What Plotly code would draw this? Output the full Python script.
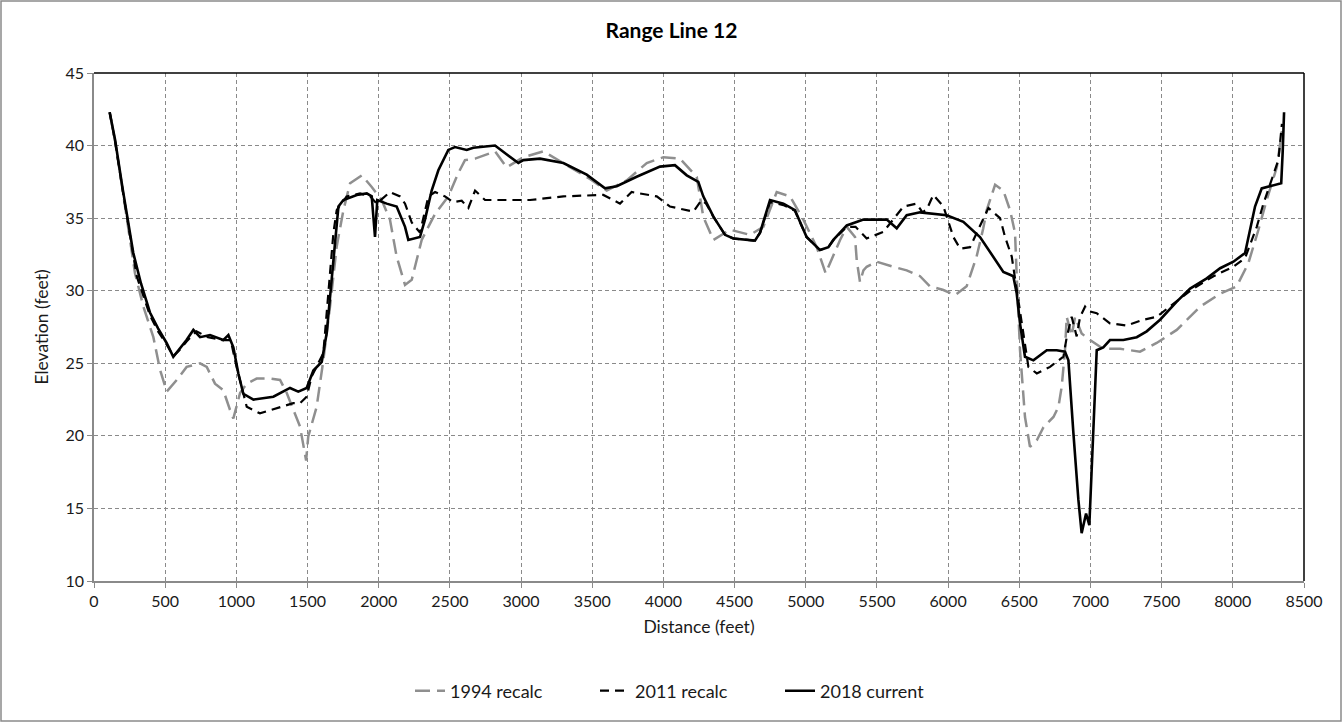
import plotly.graph_objects as go

# ---- data ----
x_2018 = [110, 148, 200, 276, 330, 393, 450, 510, 557, 600, 650, 698, 745, 815, 908, 944, 979, 1014, 1049,
          1120, 1260, 1377, 1435, 1494, 1541, 1600, 1635, 1682, 1717, 1752, 1846, 1916, 1951, 1974, 1990,
          2056, 2126, 2185, 2208, 2290, 2325, 2372, 2419, 2489, 2536, 2618, 2665, 2817, 2900, 2981, 3016,
          3133, 3297, 3461, 3590, 3672, 3812, 3976, 4081, 4164, 4245, 4280, 4351, 4433, 4491, 4643, 4679,
          4749, 4843, 4924, 5006, 5100, 5159, 5194, 5288, 5405, 5569, 5639, 5709, 5803, 5990, 6107, 6224,
          6388, 6435, 6458, 6482, 6505, 6540, 6599, 6693, 6763, 6821, 6845, 6880, 6915, 6938, 6969, 6992,
          7020, 7044, 7090, 7137, 7231, 7325, 7395, 7489, 7606, 7700, 7817, 7911, 8004, 8086, 8121, 8156,
          8203, 8340, 8350, 8360]
y_2018 = [42.3, 40.4, 37.1, 32.6, 30.5, 28.5, 27.4, 26.4, 25.45, 26.0, 26.6, 27.3, 26.8, 26.95, 26.6, 26.95,
          26.1, 24.3, 22.9, 22.5, 22.7, 23.3, 23.05, 23.3, 24.5, 25.1, 27.1, 32.1, 35.8, 36.25, 36.6, 36.7,
          36.5, 33.7, 36.25, 36.0, 35.8, 34.4, 33.5, 33.7, 34.9, 36.9, 38.3, 39.7, 39.9, 39.7, 39.85, 40.0,
          39.4, 38.8, 39.0, 39.1, 38.8, 38.0, 37.05, 37.2, 37.85, 38.55, 38.65, 37.95, 37.5, 36.5, 35.1,
          33.85, 33.6, 33.45, 34.0, 36.25, 36.0, 35.55, 33.7, 32.8, 33.0, 33.5, 34.5, 34.9, 34.9, 34.3,
          35.2, 35.4, 35.2, 34.75, 33.7, 31.3, 31.1, 31.0, 29.8, 27.75, 25.45, 25.2, 25.9, 25.9, 25.8, 25.2,
          20.2, 15.6, 13.3, 14.65, 13.85, 20.2, 25.9, 26.1, 26.6, 26.6, 26.8, 27.2, 28.0, 29.25, 30.15,
          30.85, 31.55, 32.0, 32.6, 34.2, 35.8, 37.05, 37.4, 39.5, 42.3]

x_2011 = [110, 148, 200, 260, 300, 393, 450, 510, 557, 600, 650, 720, 800, 900, 960, 1003, 1073, 1166, 1283,
          1400, 1447, 1494, 1529, 1611, 1646, 1682, 1705, 1775, 1869, 1940, 1986, 2079, 2150, 2185, 2232,
          2290, 2349, 2396, 2466, 2524, 2583, 2630, 2677, 2747, 3063, 3297, 3578, 3695, 3777, 3953, 4046,
          4210, 4269, 4300, 4351, 4433, 4491, 4643, 4679, 4749, 4843, 4924, 5006, 5100, 5159, 5194, 5288,
          5350, 5428, 5545, 5686, 5779, 5820, 5850, 5896, 5967, 6037, 6084, 6154, 6200, 6283, 6365, 6400,
          6447, 6482, 6529, 6564, 6623, 6716, 6810, 6834, 6868, 6903, 6927, 6962, 6985, 7044, 7137, 7254,
          7371, 7465, 7582, 7723, 7864, 8004, 8086, 8168, 8215, 8273, 8320, 8345]
y_2011 = [42.3, 40.3, 37.0, 33.5, 31.0, 28.3, 27.2, 26.3, 25.5, 25.9, 26.5, 27.2, 26.8, 26.6, 26.6, 24.7,
          22.0, 21.55, 21.9, 22.25, 22.25, 22.7, 24.1, 25.7, 29.8, 34.0, 35.55, 36.5, 36.7, 36.5, 36.0,
          36.8, 36.5, 36.0, 34.7, 34.0, 36.5, 36.8, 36.5, 36.1, 36.2, 35.7, 36.9, 36.25, 36.25, 36.5, 36.6,
          36.0, 36.8, 36.5, 35.8, 35.45, 36.25, 36.0, 35.1, 33.85, 33.6, 33.45, 34.0, 36.1, 35.9, 35.5,
          33.7, 32.8, 33.0, 33.5, 34.4, 34.4, 33.6, 34.05, 35.8, 36.0, 35.4, 35.6, 36.6, 35.8, 33.7, 32.9,
          33.0, 34.0, 35.7, 35.0, 33.7, 32.35, 30.05, 26.85, 24.75, 24.3, 24.75, 25.45, 26.85, 28.2, 26.85,
          28.2, 28.9, 28.6, 28.45, 27.75, 27.6, 28.0, 28.2, 29.1, 30.15, 31.0, 31.65, 32.25, 34.4, 36.0,
          37.6, 39.0, 41.5]

x_1994 = [110, 148, 200, 253, 288, 347, 417, 464, 511, 581, 651, 745, 792, 850, 908, 955, 979, 1026, 1073,
          1143, 1236, 1307, 1354, 1400, 1447, 1490, 1505, 1564, 1611, 1658, 1705, 1752, 1799, 1881, 1951,
          2021, 2079, 2126, 2185, 2232, 2278, 2302, 2396, 2489, 2559, 2606, 2677, 2770, 2817, 2899, 3016,
          3157, 3297, 3484, 3602, 3742, 3883, 4000, 4117, 4234, 4280, 4351, 4468, 4608, 4702, 4796, 4889,
          4983, 5077, 5140, 5241, 5288, 5346, 5358, 5381, 5405, 5428, 5498, 5615, 5709, 5803, 5873, 5967,
          6049, 6130, 6200, 6247, 6271, 6330, 6388, 6435, 6470, 6482, 6505, 6540, 6575, 6623, 6670, 6740,
          6775, 6798, 6821, 6833, 6868, 6892, 6938, 6997, 7090, 7208, 7348, 7465, 7606, 7770, 7911, 8027,
          8109, 8180, 8238, 8309, 8345]
y_1994 = [42.3, 40.3, 37.0, 33.5, 31.2, 28.9, 26.8, 24.55, 23.05, 23.85, 24.75, 25.0, 24.75, 23.6, 23.15,
          21.8, 21.2, 22.95, 23.6, 23.95, 23.95, 23.85, 22.95, 21.8, 20.65, 18.3, 19.95, 22.0, 25.2, 28.9,
          33.05, 35.55, 37.4, 37.95, 37.15, 36.25, 34.9, 32.35, 30.4, 30.75, 32.6, 33.5, 35.3, 36.5, 38.1,
          39.0, 39.1, 39.45, 39.6, 38.5, 39.2, 39.6, 38.8, 37.7, 36.9, 37.6, 38.8, 39.2, 39.1, 37.85, 35.1,
          33.5, 34.2, 33.85, 34.4, 36.8, 36.5, 34.9, 33.0, 31.2, 33.5, 34.4, 33.7, 32.1, 30.6, 31.4, 31.65,
          32.0, 31.65, 31.4, 31.0, 30.3, 30.05, 29.7, 30.3, 32.35, 34.3, 35.55, 37.3, 36.9, 35.55, 34.0,
          31.0, 25.9, 21.3, 19.25, 19.7, 20.6, 21.3, 22.0, 23.4, 25.9, 28.2, 26.9, 28.2, 27.05, 26.6, 26.0,
          26.0, 25.8, 26.4, 27.3, 28.9, 29.8, 30.3, 31.9, 34.2, 36.25, 38.5, 41.0]

x_ticks = list(range(0, 8501, 500))
y_ticks = list(range(10, 46, 5))

# ---- figure ----
W, H = 1343, 723
L, R, T, B = 94, 1304, 73, 581
fig = go.Figure()
fig.add_trace(go.Scatter(x=x_1994, y=y_1994, mode="lines", name="1994 recalc",
                         line=dict(color="#8f8f8f", width=2.5, dash="15px,7px")))
fig.add_trace(go.Scatter(x=x_2011, y=y_2011, mode="lines", name="2011 recalc",
                         line=dict(color="#000000", width=2.2, dash="9px,6px")))
fig.add_trace(go.Scatter(x=x_2018, y=y_2018, mode="lines", name="2018 current",
                         line=dict(color="#000000", width=2.6)))

font_family = "Lato, 'Open Sans', sans-serif"
fig.update_layout(
    width=W, height=H,
    margin=dict(l=L, r=W - R, t=T, b=H - B),
    paper_bgcolor="white", plot_bgcolor="white",
    font=dict(family=font_family, color="#1a1a1a", size=16),
    title=dict(text="<b>Range Line 12</b>", x=0.5, xref="container", y=1 - 31 / H,
               yanchor="middle", font=dict(size=21, color="#000")),
    showlegend=True,
    legend=dict(orientation="h", x=(410 - L) / (R - L), xanchor="left",
                y=(B - 691) / (B - T), yanchor="middle",
                font=dict(size=18), tracegroupgap=0,
                entrywidth=140, entrywidthmode="pixels"),
    xaxis=dict(range=[0, 8500], tickvals=x_ticks, showgrid=True, gridcolor="#8a8a8a",
               griddash="4px,3px", gridwidth=1, showline=True, linecolor="#8a8a8a", linewidth=1.5,
               ticks="outside", ticklen=5, tickcolor="#8a8a8a", zeroline=False,
               tickfont=dict(size=16),
               title=dict(text="Distance (feet)", font=dict(size=17.5), standoff=12)),
    yaxis=dict(range=[10, 45], tickvals=y_ticks, showgrid=True, gridcolor="#8a8a8a",
               griddash="4px,3px", gridwidth=1, showline=True, linecolor="#8a8a8a", linewidth=1.5,
               ticks="outside", ticklen=5, tickcolor="#8a8a8a", zeroline=False,
               tickfont=dict(size=16),
               title=dict(text="Elevation (feet)", font=dict(size=17.5), standoff=12)),
)

# plot-area black top/right border
fig.add_shape(type="line", xref="paper", yref="paper", x0=0, x1=1, y0=1, y1=1,
              line=dict(color="black", width=1.5))
fig.add_shape(type="line", xref="paper", yref="paper", x0=1, x1=1, y0=0, y1=1,
              line=dict(color="black", width=1.5))
# outer chart border
pw, ph = R - L, B - T
fig.add_shape(type="rect", xref="paper", yref="paper",
              x0=(1 - L) / pw, x1=(W - 2 - L) / pw, y0=(B - (H - 2)) / ph, y1=(B - 1) / ph,
              line=dict(color="#8a8a8a", width=1.5), layer="below")

fig.write_html("out.html")
